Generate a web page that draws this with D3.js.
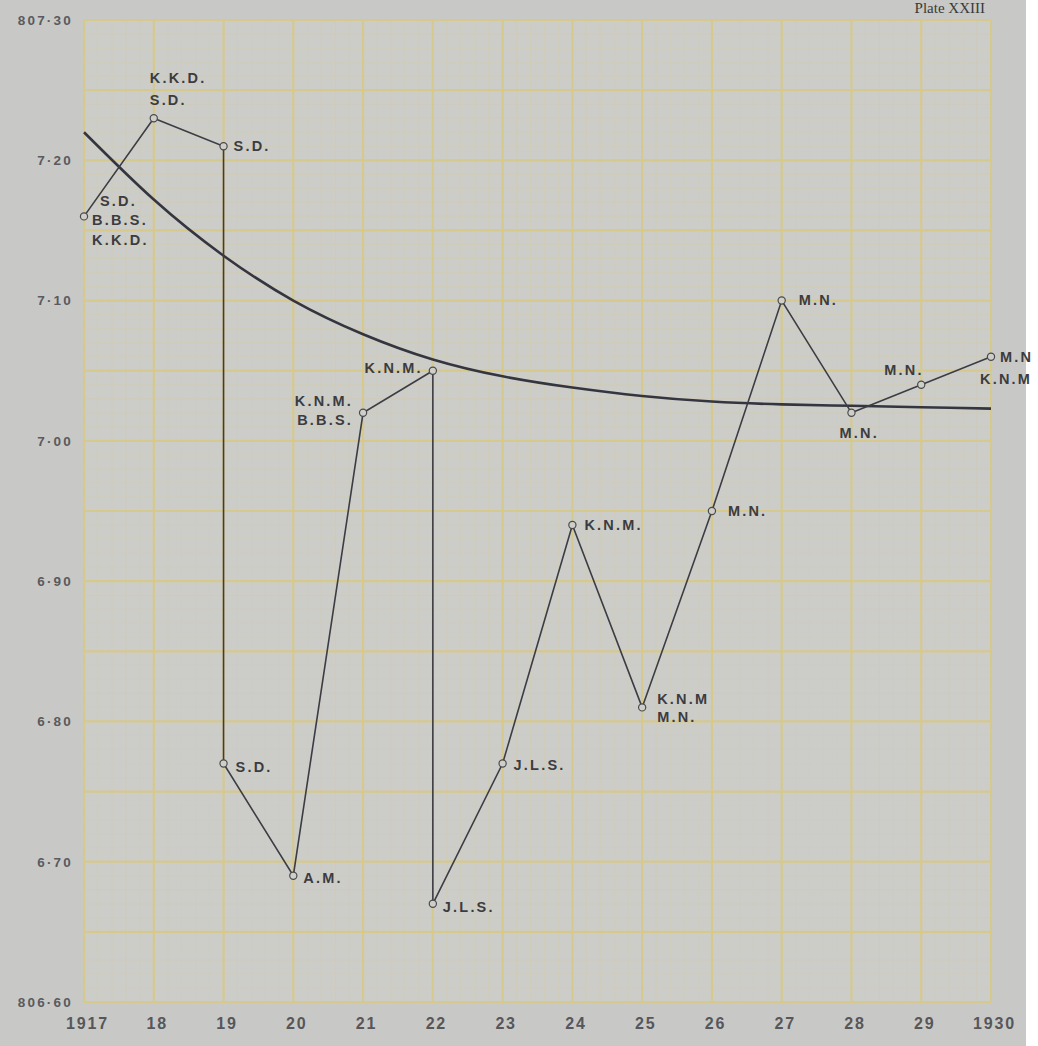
<!DOCTYPE html>
<html>
<head>
<meta charset="utf-8">
<script src="https://cdn.jsdelivr.net/npm/d3@7"></script>
<style>
  html, body { margin: 0; padding: 0; background: #ffffff; }
  svg { display: block; }
  .lbl { font-family: "Liberation Sans", Arial, sans-serif; font-weight: 700; fill: #3c3c40; }
</style>
</head>
<body>
<script>
// Mean water level readings, 1917–1930 (feet above datum).
// Years repeat where two readings fall in the same season.
const years  = [1917, 1918, 1919, 1919, 1920, 1921, 1922, 1922, 1923, 1924, 1925, 1926, 1927, 1928, 1929, 1930];
const levels = [807.16, 807.23, 807.21, 806.77, 806.69, 807.02, 807.05, 806.67, 806.77, 806.94, 806.81, 806.95, 807.10, 807.02, 807.04, 807.06];
const observers = [
  ["S.D.", "B.B.S.", "K.K.D."],
  ["K.K.D.", "S.D."],
  ["S.D."],
  ["S.D."],
  ["A.M."],
  ["K.N.M.", "B.B.S."],
  ["K.N.M."],
  ["J.L.S."],
  ["J.L.S."],
  ["K.N.M."],
  ["K.N.M", "M.N."],
  ["M.N."],
  ["M.N."],
  ["M.N."],
  ["M.N."],
  ["M.N", "K.N.M"]
];

// Smoothed trend line
const trendYears  = [1917, 1918, 1919, 1920, 1921, 1922, 1923, 1924, 1925, 1926, 1927, 1928, 1929, 1930];
const trendLevels = [807.220, 807.172, 807.132, 807.100, 807.076, 807.058, 807.046, 807.038, 807.032, 807.028, 807.026, 807.025, 807.024, 807.023];

// Axis labels
const xTickYears  = [1917, 1918, 1919, 1920, 1921, 1922, 1923, 1924, 1925, 1926, 1927, 1928, 1929, 1930];
const xTickLabels = ["1917", "18", "19", "20", "21", "22", "23", "24", "25", "26", "27", "28", "29", "1930"];
const yTickValues = [807.30, 807.20, 807.10, 807.00, 806.90, 806.80, 806.70, 806.60];
const yTickLabels = ["807·30", "7·20", "7·10", "7·00", "6·90", "6·80", "6·70", "806·60"];

const W = 1038, H = 1046;
const plot = { left: 84, right: 991, top: 20, bottom: 1002 };

const x = d3.scaleLinear().domain([1917, 1930]).range([plot.left, plot.right]);
const y = d3.scaleLinear().domain([806.60, 807.30]).range([plot.bottom, plot.top]);

const svg = d3.select("body").append("svg").attr("width", W).attr("height", H);

// paper sheet
svg.append("rect").attr("x", 0).attr("y", 0).attr("width", 1026).attr("height", H).attr("fill", "#c8c9c6");
svg.append("rect").attr("x", plot.left).attr("y", plot.top)
  .attr("width", plot.right - plot.left).attr("height", plot.bottom - plot.top)
  .attr("fill", "#cccdc9");

// graph-paper grid: fine divisions every 1/5 year and 0.01 ft
const minorX = d3.range(0, 13 * 5 + 1).map(i => 1917 + i / 5);
const minorY = d3.range(0, 71).map(i => 806.60 + i / 100);
const grid = svg.append("g");
grid.selectAll("line.mx").data(minorX).join("line")
  .attr("x1", d => x(d)).attr("x2", d => x(d)).attr("y1", plot.top).attr("y2", plot.bottom)
  .attr("stroke", "#d0ccb6").attr("stroke-width", 0.8);
grid.selectAll("line.my").data(minorY).join("line")
  .attr("y1", d => y(d)).attr("y2", d => y(d)).attr("x1", plot.left).attr("x2", plot.right)
  .attr("stroke", "#d0ccb6").attr("stroke-width", 0.8);

// heavier rulings every year and every 0.05 ft
const majorY = d3.range(0, 15).map(i => 806.60 + i * 0.05);
grid.selectAll("line.MX").data(xTickYears).join("line")
  .attr("x1", d => x(d)).attr("x2", d => x(d)).attr("y1", plot.top).attr("y2", plot.bottom)
  .attr("stroke", "#d6c98e").attr("stroke-width", 2.2);
grid.selectAll("line.MY").data(majorY).join("line")
  .attr("y1", d => y(d)).attr("y2", d => y(d)).attr("x1", plot.left).attr("x2", plot.right)
  .attr("stroke", "#d6c98e").attr("stroke-width", 2.2);

// axis labels
const xAxis = d3.axisBottom(x).tickValues(xTickYears).tickSize(0)
  .tickFormat((d, i) => xTickLabels[i]);
const gx = svg.append("g").attr("transform", `translate(0,${plot.bottom})`).call(xAxis);
gx.select(".domain").remove();
gx.selectAll("text").attr("class", "lbl").attr("dy", "0")
  .attr("y", 27).attr("dx", 3)
  .style("font-size", "16px").style("letter-spacing", "1.8px").style("fill", "#56565b");

const yAxis = d3.axisLeft(y).tickValues(yTickValues).tickSize(0)
  .tickFormat((d, i) => yTickLabels[i]);
const gy = svg.append("g").attr("transform", `translate(${plot.left},0)`).call(yAxis);
gy.select(".domain").remove();
gy.selectAll("text").attr("class", "lbl").attr("x", -11)
  .style("font-size", "13.5px").style("letter-spacing", "2.2px").style("fill", "#5a5a5f");

// smoothed trend
const trendLine = d3.line().x(d => x(d[0])).y(d => y(d[1])).curve(d3.curveNatural);
svg.append("path")
  .datum(trendYears.map((yr, i) => [yr, trendLevels[i]]))
  .attr("d", trendLine)
  .attr("fill", "none").attr("stroke", "#34353f").attr("stroke-width", 2.6);

// observed readings
const pts = years.map((yr, i) => ({ yr, v: levels[i], who: observers[i] }));
const obsLine = d3.line().x(d => x(d.yr)).y(d => y(d.v));
svg.append("path").datum(pts).attr("d", obsLine)
  .attr("fill", "none").attr("stroke", "#3c3d44").attr("stroke-width", 1.6);

svg.selectAll("circle.pt").data(pts).join("circle")
  .attr("cx", d => x(d.yr)).attr("cy", d => y(d.v)).attr("r", 3.6)
  .attr("fill", "#cfcfca").attr("stroke", "#4a4a4e").attr("stroke-width", 1.2);

// observer initials beside each reading
const place = [
  { dx: 16, dy: -16, anchor: "start", gap: 19.5, xs: [0, -8, -8] },
  { dx: -4, dy: -40, anchor: "start", gap: 22 },
  { dx: 10, dy: 0, anchor: "start" },
  { dx: 12, dy: 3, anchor: "start" },
  { dx: 10, dy: 2, anchor: "start" },
  { dx: -10, dy: -12, anchor: "end", gap: 19 },
  { dx: -10, dy: -3, anchor: "end" },
  { dx: 10, dy: 3, anchor: "start" },
  { dx: 11, dy: 1, anchor: "start" },
  { dx: 12, dy: 0, anchor: "start" },
  { dx: 15, dy: -9, anchor: "start", gap: 18 },
  { dx: 16, dy: 0, anchor: "start" },
  { dx: 17, dy: -1, anchor: "start" },
  { dx: -12, dy: 20, anchor: "start" },
  { dx: -37, dy: -15, anchor: "start" },
  { dx: 9, dy: 0, anchor: "start", gap: 22, xs: [0, -20] }
];
const lg = svg.append("g");
pts.forEach((d, i) => {
  const p = place[i];
  d.who.forEach((t, j) => {
    lg.append("text").attr("class", "lbl")
      .attr("x", x(d.yr) + p.dx + (p.xs ? p.xs[j] : 0))
      .attr("y", y(d.v) + p.dy + j * (p.gap || 0))
      .attr("dy", "0.36em")
      .attr("text-anchor", p.anchor)
      .style("font-size", "14.5px").style("letter-spacing", "2.2px")
      .text(t);
  });
});

// plate number
svg.append("text").attr("x", 985).attr("y", 13).attr("text-anchor", "end")
  .style("font-family", "'Liberation Serif', 'DejaVu Serif', serif")
  .style("font-size", "15px").style("fill", "#3a3a3a").text("Plate XXIII");
</script>
</body>
</html>
